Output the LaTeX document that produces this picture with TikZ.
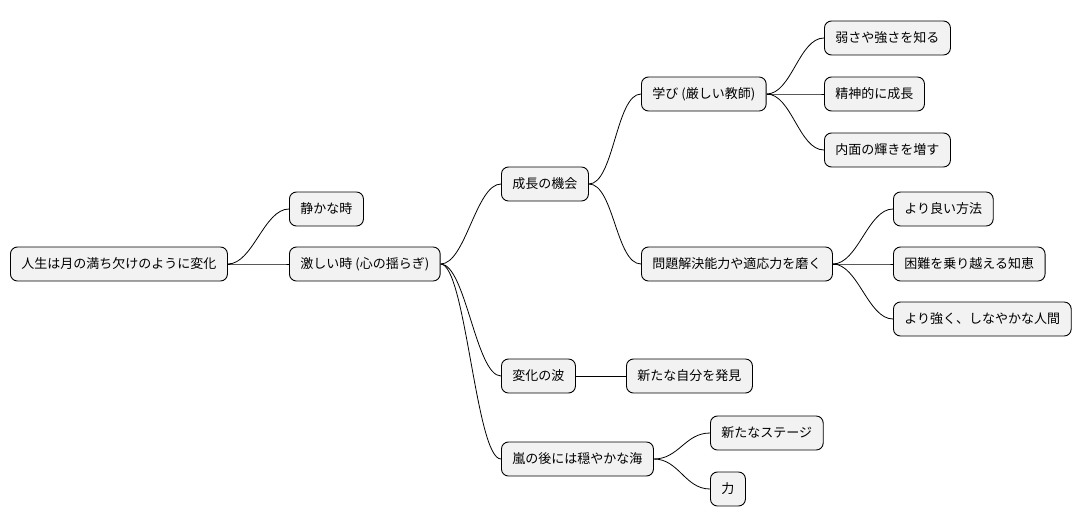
\documentclass[tikz,border=0pt]{standalone}
\usepackage{fontspec}
\setmainfont{Noto Sans CJK JP}
\usetikzlibrary{calc}

\begin{document}
\begin{tikzpicture}[x=1pt,y=-1pt,
    topic/.style={draw=black,fill=black!5,rounded corners=7pt,line width=.9pt,
      anchor=west,minimum height=34pt,inner xsep=11pt,font=\fontsize{13pt}{15pt}\selectfont},
    branch/.style={line width=.8pt}]
  \useasboundingbox (0,0) rectangle (1092,527);
  % root and its branches
  \node[topic] (root) at (10,264) {人生は月の満ち欠けのように変化};
  \node[topic] (calm) at (289,209) {静かな時};
  \node[topic] (storm) at (289,264) {激しい時 (心の揺らぎ)};
  \node[topic] (grow) at (501,184) {成長の機会};
  \node[topic] (wave) at (501,376) {変化の波};
  \node[topic] (sea) at (501,459) {嵐の後には穏やかな海};
  \node[topic] (learn) at (641,94) {学び (厳しい教師)};
  \node[topic] (solve) at (641,264) {問題解決能力や適応力を磨く};
  \node[topic] (weak) at (824,38) {弱さや強さを知る};
  \node[topic] (mind) at (824,94) {精神的に成長};
  \node[topic] (shine) at (824,150) {内面の輝きを増す};
  \node[topic] (better) at (893,209) {より良い方法};
  \node[topic] (wisdom) at (893,264) {困難を乗り越える知恵};
  \node[topic] (strong) at (893,319) {より強く、しなやかな人間};
  \node[topic] (self) at (626,376) {新たな自分を発見};
  \node[topic] (stage) at (710,433) {新たなステージ};
  \node[topic] (power) at (710,489) {力};

  \foreach \a/\b in {root/calm,root/storm,storm/grow,storm/wave,storm/sea,
      grow/learn,grow/solve,learn/weak,learn/mind,learn/shine,
      solve/better,solve/wisdom,solve/strong,wave/self,sea/stage,sea/power} {
    \draw[branch] (\a.east) .. controls +(25,0) and +(-25,0) .. (\b.west);
  }
\end{tikzpicture}
\end{document}
